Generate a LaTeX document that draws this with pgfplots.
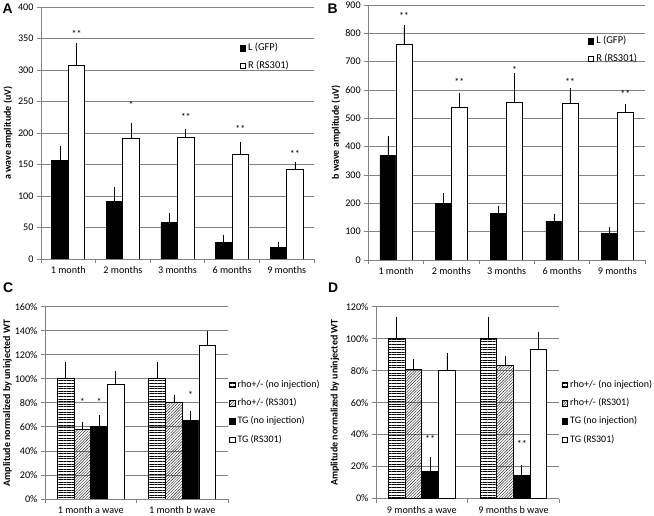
\documentclass[border=0pt]{standalone}
\usepackage{fontspec}
\setmainfont{Carlito}
\newfontfamily\arialfont{Liberation Sans}
\usepackage{pgfplots}
\pgfplotsset{compat=1.18}
\usetikzlibrary{patterns,patterns.meta}
\definecolor{gridgray}{RGB}{130,130,130}
\tikzset{
  starnode/.style={font=\fontsize{10}{11}\selectfont, anchor=base, inner sep=0pt, yshift=-4.5bp},
  letter/.style={font=\arialfont\bfseries\fontsize{14}{14}\selectfont, anchor=base west, inner sep=0pt},
}
\pgfplotsset{
  exstyle/.style={
    scale only axis,
    anchor=south west,
    axis x line*=bottom, axis y line*=left,
    axis line style={gridgray, line width=0.8bp},
    ymajorgrids, grid style={gridgray, line width=0.8bp},
    ybar=0pt,
    enlarge x limits=false, enlarge y limits=false,
    ymin=0,
    tick align=outside,
    major tick length=4bp, minor tick length=4bp,
    tick style={gridgray, line width=0.8bp},
    major x tick style={/pgfplots/major tick length=0pt},
    ticklabel style={font=\fontsize{10.2}{12}\selectfont},
    /pgf/number format/assume math mode=true,
    error bars/y dir=plus, error bars/y explicit,
    error bars/error bar style={black, line width=0.75bp},
    error bars/error mark options={black, line width=0.75bp, mark size=2.3bp},
    ylabel style={font=\bfseries\fontsize{10}{12}\selectfont, anchor=center},
    legend style={draw=none, fill=none, inner sep=0pt, anchor=north west,
      font=\fontsize{10.5}{12}\selectfont, column sep=2.5bp,
      nodes={inner sep=0pt, text height=6.5bp, text depth=2bp}},
    legend cell align=left,
  },
  boxlegend/.style={legend image code/.code={\draw[##1, line width=0.5bp] (0bp,-2.5bp) rectangle (5.5bp,3bp);}},
  blackbar/.style={fill=black, draw=black, line width=0.8bp, boxlegend},
  whitebar/.style={fill=white, draw=black, line width=0.8bp, boxlegend},
  hbar/.style={fill=white, draw=black, line width=0.8bp, pattern={Lines[angle=0,distance=2.6bp,line width=0.75bp]}, boxlegend},
  dbar/.style={fill=white, draw=black, line width=0.8bp, pattern={Lines[angle=45,distance=2bp,line width=0.45bp]}, pattern color=black!85, boxlegend},
}
\begin{document}
\begin{tikzpicture}
\useasboundingbox (0,0) rectangle (654bp,516bp);

% ---------------- A ----------------
\begin{axis}[exstyle, at={(41bp,257bp)}, width=273bp, height=252bp,
  ymax=400, ytick={0,50,...,400},
  xmin=0.5, xmax=5.5, xtick={1,...,5},
  xticklabels={1 month,2 months,3 months,6 months,9 months},
  minor xtick={0.5,1.5,...,5.5},
  bar width=16.5bp,
  ylabel={a wave amplitude (uV)},
  ylabel style={at={(axis description cs:-0.121,0.5)}},
  legend style={at={(0.727,0.853)}, row sep=9bp}]
\addplot[blackbar] table[x=x, y=y, y error=e] {
x y e
1 157 19
2 91 19
3 57.7 12.3
4 26.5 8.5
5 18.5 5.5
};
\addplot[whitebar] table[x=x, y=y, y error=e] {
x y e
1 307 32
2 191.5 21.5
3 193 10
4 166 16.5
5 142 9
};
\legend{L (GFP), R (RS301)}
\node[starnode, xshift=8.25bp] at (axis cs:1,359) {**};
\node[starnode, xshift=8.25bp] at (axis cs:2,246) {*};
\node[starnode, xshift=8.25bp] at (axis cs:3,227) {**};
\node[starnode, xshift=8.25bp] at (axis cs:4,208) {**};
\node[starnode, xshift=8.25bp] at (axis cs:5,169) {**};
\end{axis}

% ---------------- B ----------------
\begin{axis}[exstyle, at={(368.3bp,256bp)}, width=276.7bp, height=255bp,
  ymax=900, ytick={0,100,...,900},
  xmin=0.5, xmax=5.5, xtick={1,...,5},
  xticklabels={1 month,2 months,3 months,6 months,9 months},
  minor xtick={0.5,1.5,...,5.5},
  bar width=16bp,
  ylabel={b wave amplitude (uV)},
  ylabel style={at={(axis description cs:-0.117,0.5)}},
  legend style={at={(0.793,0.874)}, row sep=9bp}]
\addplot[blackbar] table[x=x, y=y, y error=e] {
x y e
1 368 62
2 198.6 29.4
3 163 19
4 136 19
5 94 16
};
\addplot[whitebar] table[x=x, y=y, y error=e] {
x y e
1 762 59
2 538 44
3 555 96
4 551 47
5 520 24
};
\legend{L (GFP), R (RS301)}
\node[starnode, xshift=8bp] at (axis cs:1,864) {**};
\node[starnode, xshift=8bp] at (axis cs:2,633) {**};
\node[starnode, xshift=8bp] at (axis cs:3,673) {*};
\node[starnode, xshift=8bp] at (axis cs:4,633) {**};
\node[starnode, xshift=8bp] at (axis cs:5,591) {**};
\end{axis}

% ---------------- C ----------------
\begin{axis}[exstyle, at={(45bp,17bp)}, width=183bp, height=192.3bp,
  ymax=160, ytick={0,20,...,160},
  yticklabel={\pgfmathprintnumber{\tick}\%},
  xmin=0.5, xmax=2.5, xtick={1,2},
  xticklabels={1 month a wave,1 month b wave},
  minor xtick={0.5,1.5,2.5},
  bar width=16.7bp,
  ylabel={Amplitude normalized by uninjected WT},
  ylabel style={at={(axis description cs:-0.205,0.5)}},
  legend style={at={(1.005,0.616)}, row sep=9.8bp, font=\fontsize{10}{12}\selectfont}]
\addplot[hbar] table[x=x, y=y, y error=e] {
x y e
1 100 12
2 100 12.3
};
\addplot[dbar] table[x=x, y=y, y error=e] {
x y e
1 58 3.8
2 80.7 4.3
};
\addplot[blackbar] table[x=x, y=y, y error=e] {
x y e
1 60 8
2 65.4 6
};
\addplot[whitebar] table[x=x, y=y, y error=e] {
x y e
1 95.4 9
2 127.6 10
};
\legend{rho+/- (no injection), rho+/- (RS301), TG (no injection), TG (RS301)}
\node[starnode, xshift=-8.35bp] at (axis cs:1,81.5) {*};
\node[starnode, xshift=8.35bp] at (axis cs:1,81.5) {*};
\node[starnode, xshift=8.35bp] at (axis cs:2,87) {*};
\end{axis}

% ---------------- D ----------------
\begin{axis}[exstyle, at={(376bp,17.5bp)}, width=183.3bp, height=191.8bp,
  ymax=120, ytick={0,20,...,120},
  yticklabel={\pgfmathprintnumber{\tick}\%},
  xmin=0.5, xmax=2.5, xtick={1,2},
  xticklabels={9 months a wave,9 months b wave},
  minor xtick={0.5,1.5,2.5},
  bar width=16.7bp,
  ylabel={Amplitude normalized by uninjected WT},
  ylabel style={at={(axis description cs:-0.224,0.5)}},
  legend style={at={(1.012,0.615)}, row sep=9.8bp, font=\fontsize{10}{12}\selectfont}]
\addplot[hbar] table[x=x, y=y, y error=e] {
x y e
1 100 12.1
2 100 12.3
};
\addplot[dbar] table[x=x, y=y, y error=e] {
x y e
1 81 4.8
2 83.5 4.2
};
\addplot[blackbar] table[x=x, y=y, y error=e] {
x y e
1 16.7 7.9
2 14.2 5.6
};
\addplot[whitebar] table[x=x, y=y, y error=e] {
x y e
1 80 9.4
2 93.3 9.7
};
\legend{rho+/- (no injection), rho+/- (RS301), TG (no injection), TG (RS301)}
\node[starnode, xshift=8.35bp] at (axis cs:1,38) {**};
\node[starnode, xshift=8.35bp] at (axis cs:2,35) {**};
\end{axis}

% panel letters
\node[letter] at (2.5bp,502bp) {A};
\node[letter] at (327.5bp,502bp) {B};
\node[letter] at (3bp,223bp) {C};
\node[letter] at (328bp,223bp) {D};
\end{tikzpicture}
\end{document}
